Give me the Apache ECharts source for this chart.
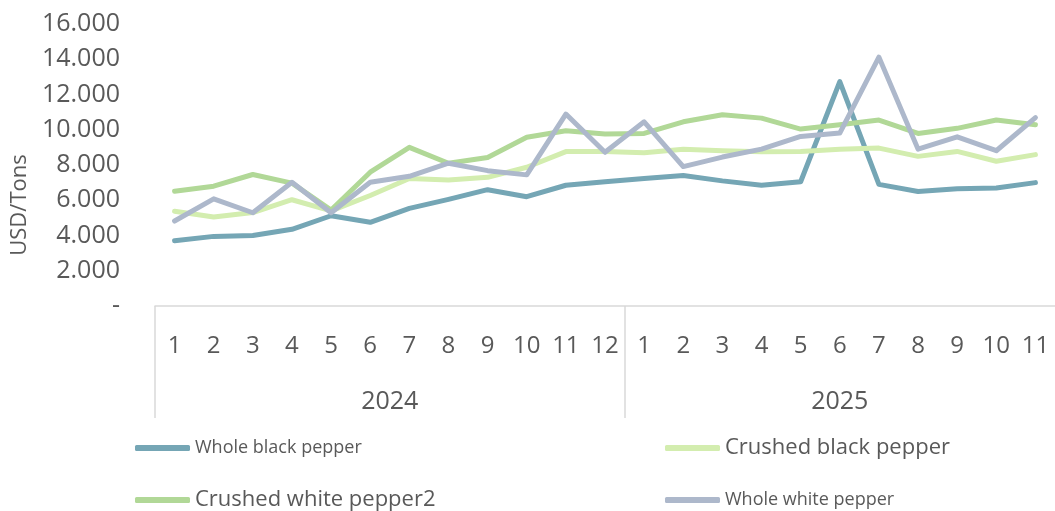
<!DOCTYPE html>
<html>
<head>
<meta charset="utf-8">
<script src="https://cdn.jsdelivr.net/npm/echarts@6/dist/echarts.min.js"></script>
<style>
  html, body { margin: 0; padding: 0; background: #fff; }
  #chart { width: 1055px; height: 511px; }
</style>
</head>
<body>
<div id="chart"></div>
<script>
// 数据
const years = ['2024', '2025'];
const yearMonthCounts = [12, 11];
const monthLabels = ['1', '2', '3', '4', '5', '6', '7', '8', '9', '10', '11', '12',
                     '1', '2', '3', '4', '5', '6', '7', '8', '9', '10', '11'];
const seriesNames = ['Whole black pepper', 'Crushed black pepper', 'Crushed white pepper2', 'Whole white pepper'];
const wholeBlack   = [3700, 3950, 4000, 4350, 5120, 4750, 5540, 6050, 6600, 6200, 6850, 7050,
                      7230, 7400, 7100, 6850, 7050, 12730, 6900, 6500, 6650, 6700, 7000];
const crushedBlack = [5380, 5050, 5300, 6030, 5400, 6270, 7230, 7150, 7300, 7870, 8760, 8770,
                      8700, 8900, 8810, 8750, 8760, 8900, 8960, 8490, 8770, 8210, 8590];
const crushedWhite = [6510, 6800, 7460, 6970, 5450, 7590, 9000, 8100, 8430, 9570, 9940, 9760,
                      9790, 10450, 10850, 10660, 10040, 10280, 10550, 9790, 10080, 10550, 10280];
const wholeWhite   = [4820, 6080, 5290, 7020, 5290, 7020, 7360, 8100, 7680, 7440, 10890, 8720,
                      10450, 7910, 8450, 8900, 9620, 9810, 14120, 8900, 9600, 8810, 10690];
const yTicks = [0, 2000, 4000, 6000, 8000, 10000, 12000, 14000, 16000];

const colors = ['#75A6B5', '#D3EDAF', '#B1D897', '#ADB8CB'];
const textColor = '#595959';
const font = '"Open Sans", "Noto Sans", sans-serif';

// 年份分组：分隔线位置和标签位置
const groupBounds = [];
const groupCenters = [];
let start = 0;
yearMonthCounts.forEach(n => {
  groupBounds.push(start - 0.5);
  groupCenters.push(start + (n - 1) / 2);
  start += n;
});

const chart = echarts.init(document.getElementById('chart'));

const legendPos = [
  { left: 135, top: 435, size: 18 },
  { left: 665, top: 435, size: 22 },
  { left: 135, top: 487, size: 22 },
  { left: 665, top: 487, size: 18 }
];

chart.setOption({
  animation: false,
  color: colors,
  textStyle: { fontFamily: font },
  grid: { left: 155, right: -5, top: 24, bottom: 205, containLabel: false },
  legend: seriesNames.map((name, i) => ({
    data: [name],
    left: legendPos[i].left,
    top: legendPos[i].top,
    padding: 0,
    icon: 'roundRect',
    itemWidth: 55,
    itemHeight: 6,
    textStyle: { color: textColor, fontSize: legendPos[i].size, lineHeight: 26, fontFamily: font }
  })),
  xAxis: [
    {
      type: 'category',
      data: monthLabels,
      boundaryGap: true,
      axisLine: { lineStyle: { color: '#D9D9D9', width: 1.5 } },
      axisTick: { show: false },
      axisLabel: { interval: 0, margin: 28, fontSize: 24, color: textColor, fontFamily: font },
      splitLine: { show: false }
    },
    {
      type: 'value',
      position: 'bottom',
      min: -0.5,
      max: monthLabels.length - 0.5,
      axisLine: { show: false },
      splitLine: { show: false },
      axisTick: {
        show: true,
        customValues: groupBounds,
        length: 112,
        lineStyle: { color: '#D9D9D9', width: 1.5 }
      },
      axisLabel: {
        customValues: groupCenters,
        margin: 83,
        fontSize: 25,
        color: textColor,
        fontFamily: font,
        formatter: v => {
          const idx = groupCenters.indexOf(v);
          return idx >= 0 ? years[idx] : '';
        }
      }
    }
  ],
  yAxis: {
    type: 'value',
    min: yTicks[0],
    max: yTicks[yTicks.length - 1],
    interval: yTicks[1] - yTicks[0],
    name: 'USD/Tons',
    nameLocation: 'middle',
    nameRotate: 90,
    nameGap: 123,
    nameTextStyle: { color: textColor, fontSize: 22, fontFamily: font, padding: [0, 80, 0, 0] },
    axisLine: { show: false },
    axisTick: { show: false },
    splitLine: { show: false },
    axisLabel: {
      margin: 35,
      fontSize: 25,
      color: textColor,
      fontFamily: font,
      formatter: v => v === 0 ? '-' : (v / 1000).toFixed(3)
    }
  },
  series: [wholeBlack, crushedBlack, crushedWhite, wholeWhite].map((data, i) => ({
    name: seriesNames[i],
    type: 'line',
    data: data,
    symbol: 'none',
    lineStyle: { width: 5, color: colors[i], cap: 'round', join: 'round' },
    itemStyle: { color: colors[i] }
  }))
});
</script>
</body>
</html>
